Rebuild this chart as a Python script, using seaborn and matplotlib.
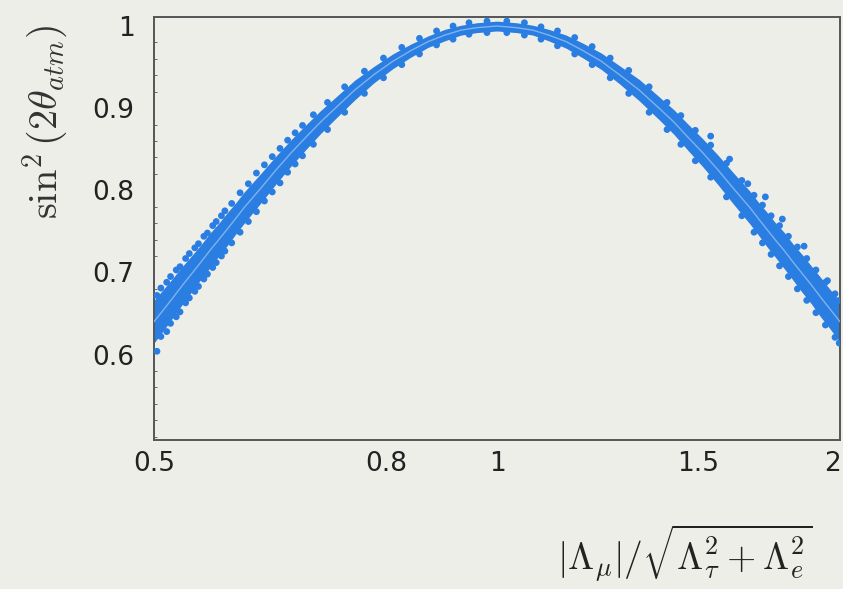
import matplotlib
matplotlib.use("Agg")
import matplotlib.pyplot as plt
import matplotlib.ticker as mticker
import matplotlib.transforms as mtransforms
import seaborn as sns
import pandas as pd

# ---- data ----
x_pts = [0.50, 0.51, 0.52, 0.53, 0.54, 0.55, 0.56, 0.57, 0.58, 0.59, 0.60,
         0.62, 0.64, 0.66, 0.68, 0.70, 0.72, 0.75, 0.78, 0.81, 0.84, 0.87,
         0.90, 0.93, 0.96, 1.00, 1.04, 1.075, 1.11, 1.15, 1.19, 1.235, 1.28,
         1.333, 1.39, 1.43, 1.47, 1.515, 1.5625, 1.613, 1.667, 1.695, 1.724,
         1.754, 1.786, 1.818, 1.852, 1.887, 1.923, 1.961, 2.0]
y_mid = [0.640, 0.655, 0.670, 0.685, 0.699, 0.713, 0.727, 0.740, 0.753, 0.766, 0.779,
         0.802, 0.825, 0.846, 0.865, 0.883, 0.899, 0.922, 0.941, 0.957, 0.970, 0.981,
         0.989, 0.995, 0.998, 1.000, 0.998, 0.995, 0.989, 0.981, 0.970, 0.957, 0.941,
         0.922, 0.899, 0.883, 0.865, 0.846, 0.825, 0.802, 0.779, 0.766, 0.753,
         0.740, 0.727, 0.713, 0.699, 0.685, 0.670, 0.655, 0.640]
y_lo = [0.614, 0.630, 0.646, 0.662, 0.677, 0.692, 0.706, 0.720, 0.733, 0.747, 0.760,
        0.784, 0.808, 0.830, 0.850, 0.869, 0.886, 0.910, 0.931, 0.948, 0.962, 0.974,
        0.982, 0.989, 0.992, 0.994, 0.992, 0.989, 0.982, 0.973, 0.961, 0.947, 0.930,
        0.909, 0.885, 0.868, 0.849, 0.829, 0.807, 0.783, 0.759, 0.746, 0.732,
        0.719, 0.705, 0.691, 0.676, 0.662, 0.646, 0.631, 0.615]
y_hi = [0.666, 0.680, 0.694, 0.708, 0.721, 0.734, 0.748, 0.760, 0.773, 0.785, 0.798,
        0.820, 0.842, 0.862, 0.880, 0.897, 0.912, 0.934, 0.951, 0.966, 0.978, 0.988,
        0.996, 1.001, 1.004, 1.006, 1.004, 1.001, 0.996, 0.989, 0.979, 0.967, 0.952,
        0.935, 0.913, 0.898, 0.881, 0.863, 0.843, 0.821, 0.799, 0.786, 0.774,
        0.761, 0.749, 0.735, 0.722, 0.708, 0.694, 0.679, 0.665]

edge_x = [0.503, 0.507, 0.513, 0.517, 0.523, 0.527, 0.533, 0.537, 0.543, 0.547,
          0.553, 0.557, 0.563, 0.567, 0.573, 0.577, 0.585, 0.595, 0.605, 0.615,
          0.625, 0.635, 0.645, 0.655, 0.665, 0.675, 0.690, 0.710, 0.735, 0.765,
          0.795, 0.825, 0.855, 0.885, 0.915, 0.945, 0.980, 1.020, 1.057, 1.093,
          1.130, 1.170, 1.212, 1.257, 1.305, 1.360, 1.410, 1.450, 1.493, 1.540,
          1.590, 1.640, 1.681, 1.710, 1.740, 1.770, 1.802, 1.835, 1.870, 1.905,
          1.942, 1.980, 1.997]
edge_up = [0.672, 0.681, 0.688, 0.695, 0.703, 0.707, 0.717, 0.723, 0.730, 0.735,
           0.744, 0.748, 0.757, 0.762, 0.769, 0.775, 0.784, 0.797, 0.808, 0.821,
           0.831, 0.841, 0.851, 0.861, 0.870, 0.879, 0.892, 0.907, 0.926, 0.945,
           0.961, 0.974, 0.985, 0.994, 1.000, 1.004, 1.006, 1.006, 1.004, 0.999,
           0.994, 0.986, 0.975, 0.961, 0.946, 0.926, 0.907, 0.891, 0.873, 0.855,
           0.833, 0.812, 0.794, 0.782, 0.769, 0.757, 0.744, 0.731, 0.717, 0.703,
           0.688, 0.674, 0.666]
edge_dn = [0.604, 0.622, 0.628, 0.638, 0.646, 0.652, 0.663, 0.669, 0.677, 0.683,
           0.692, 0.698, 0.706, 0.712, 0.720, 0.726, 0.736, 0.749, 0.762, 0.774,
           0.787, 0.798, 0.809, 0.822, 0.832, 0.842, 0.856, 0.874, 0.895, 0.918,
           0.937, 0.953, 0.966, 0.977, 0.984, 0.990, 0.992, 0.992, 0.989, 0.984,
           0.976, 0.966, 0.953, 0.937, 0.918, 0.895, 0.874, 0.856, 0.836, 0.816,
           0.792, 0.769, 0.749, 0.736, 0.722, 0.708, 0.695, 0.680, 0.666, 0.651,
           0.636, 0.621, 0.614]
out_x = [1.54, 1.86, 1.78, 1.66, 1.60, 1.72, 1.95]
out_y = [0.866, 0.732, 0.765, 0.808, 0.838, 0.792, 0.690]

x_ticks = [0.5, 0.8, 1, 1.5, 2]
x_tick_labels = ["0.5", "0.8", "1", "1.5", "2"]
y_ticks = [0.6, 0.7, 0.8, 0.9, 1.0]
y_tick_labels = ["0.6", "0.7", "0.8", "0.9", "1"]

# ---- style ----
BG = "#eeeee9"
BLUE = "#2a7de1"
sns.set_theme(style="white")
plt.rcParams["font.family"] = ["DejaVu Sans"]
plt.rcParams["mathtext.fontset"] = "cm"

fig = plt.figure(figsize=(8.43, 5.89), dpi=100, facecolor=BG)
ax = fig.add_axes([154 / 843, 1 - 440 / 589, 686 / 843, 423 / 589])
ax.set_facecolor(BG)

band = pd.DataFrame({"x": x_pts, "mid": y_mid, "lo": y_lo, "hi": y_hi})
pts = pd.DataFrame({"x": edge_x + edge_x + out_x,
                    "y": edge_up + edge_dn + out_y})

ax.fill_between(band["x"], band["lo"], band["hi"], color=BLUE, lw=0, zorder=2)
sns.scatterplot(data=pts, x="x", y="y", ax=ax, color=BLUE, s=24,
                edgecolor="none", zorder=3, legend=False)
sns.lineplot(data=band, x="x", y="mid", ax=ax, color="#7fb3ee", lw=1.0,
             zorder=4, sort=False)

ax.set_xscale("log")
ax.set_xlim(0.5, 2.0)
ax.set_ylim(0.496, 1.011)
ax.xaxis.set_major_locator(mticker.FixedLocator(x_ticks))
ax.xaxis.set_major_formatter(mticker.FixedFormatter(x_tick_labels))
ax.xaxis.set_minor_locator(mticker.NullLocator())
ax.yaxis.set_major_locator(mticker.FixedLocator(y_ticks))
ax.yaxis.set_major_formatter(mticker.FixedFormatter(y_tick_labels))
ax.yaxis.set_minor_locator(mticker.MultipleLocator(0.02))

ax.tick_params(axis="both", which="major", direction="in", length=5, width=1,
               color="#444444", labelsize=19, labelcolor="#222222", pad=8)
ax.tick_params(axis="y", which="minor", direction="in", length=2.5, width=0.7,
               color="#666666", left=True)
ax.tick_params(axis="y", which="major", pad=14)
for s in ax.spines.values():
    s.set_color("#555555")
    s.set_linewidth(1.4)

fig.canvas.draw()
labels = ax.get_xticklabels()
shift = mtransforms.ScaledTranslation(-7 / 100, 0, fig.dpi_scale_trans)
labels[-1].set_transform(labels[-1].get_transform() + shift)

ax.set_xlabel("")
ax.set_ylabel("")

fig.text(45 / 843, 1 - 122 / 589, r"$\sin^2(2\theta_{atm})$", rotation=90,
         ha="center", va="center", fontsize=29, color="#333333")
fig.text(685 / 843, 1 - 553 / 589, r"$|\Lambda_\mu|/\sqrt{\Lambda_\tau^2+\Lambda_e^2}$",
         ha="center", va="center", fontsize=27, color="#222222")

fig.savefig("out.png", dpi=100, facecolor=BG)
